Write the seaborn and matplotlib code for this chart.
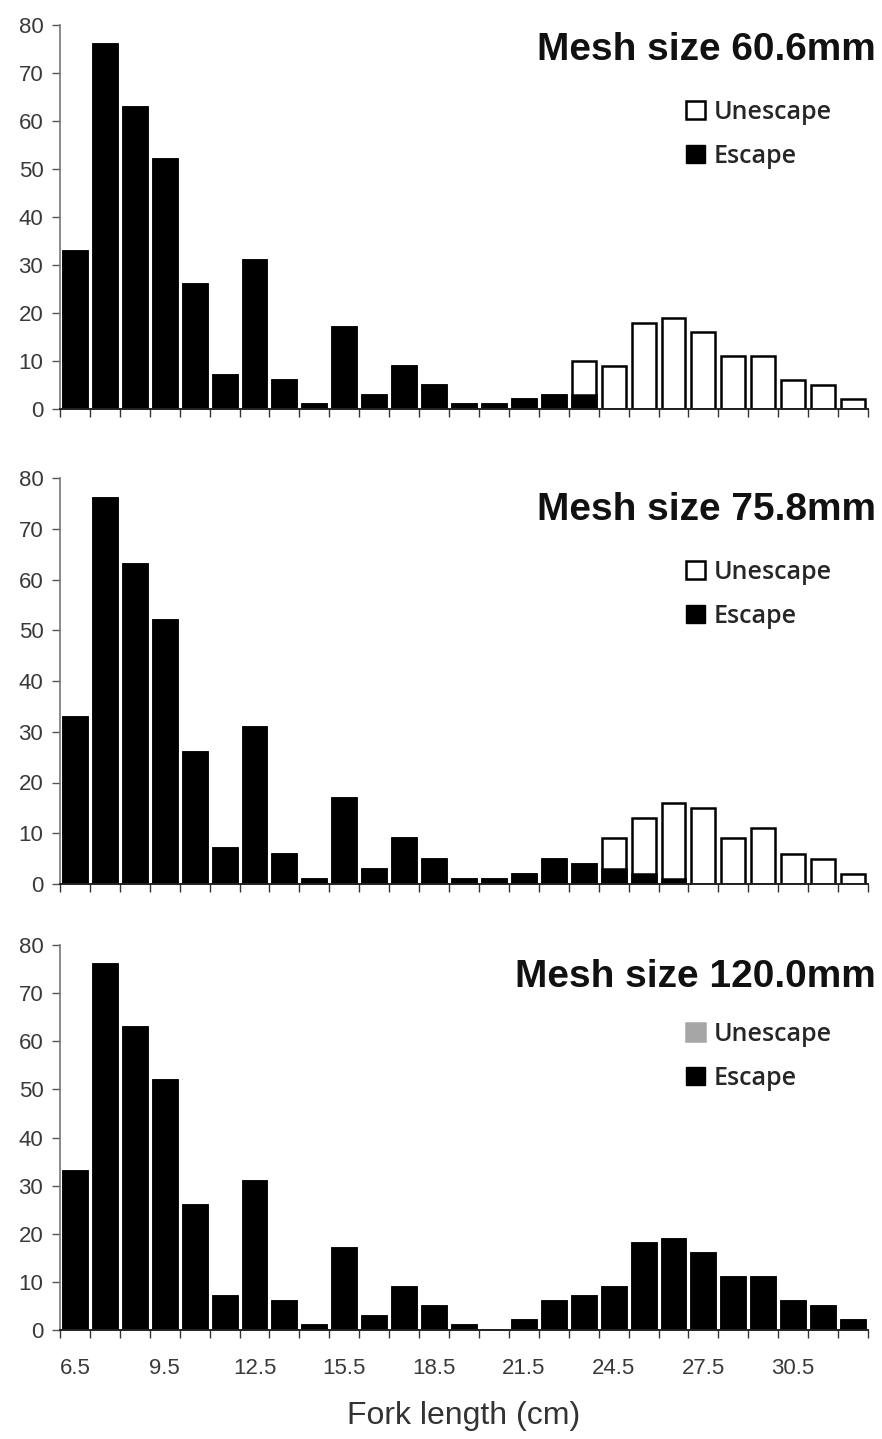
import matplotlib
matplotlib.use("Agg")
import matplotlib.pyplot as plt
from matplotlib.patches import Patch
import seaborn as sns
import numpy as np

fork_length = [6.5, 7.5, 8.5, 9.5, 10.5, 11.5, 12.5, 13.5, 14.5, 15.5, 16.5, 17.5, 18.5,
               19.5, 20.5, 21.5, 22.5, 23.5, 24.5, 25.5, 26.5, 27.5, 28.5, 29.5, 30.5, 31.5, 32.5]
tick_labels = ["6.5", "9.5", "12.5", "15.5", "18.5", "21.5", "24.5", "27.5", "30.5"]

escape_606 = [33, 76, 63, 52, 26, 7, 31, 6, 1, 17, 3, 9, 5, 1, 1, 2, 3, 3, 0, 0, 0, 0, 0, 0, 0, 0, 0]
unescape_606 = [0, 0, 0, 0, 0, 0, 0, 0, 0, 0, 0, 0, 0, 0, 0, 0, 0, 7, 9, 18, 19, 16, 11, 11, 6, 5, 2]

escape_758 = [33, 76, 63, 52, 26, 7, 31, 6, 1, 17, 3, 9, 5, 1, 1, 2, 5, 4, 3, 2, 1, 0, 0, 0, 0, 0, 0]
unescape_758 = [0, 0, 0, 0, 0, 0, 0, 0, 0, 0, 0, 0, 0, 0, 0, 0, 0, 0, 6, 11, 15, 15, 9, 11, 6, 5, 2]

escape_1200 = [33, 76, 63, 52, 26, 7, 31, 6, 1, 17, 3, 9, 5, 1, 0, 2, 6, 7, 9, 18, 19, 16, 11, 11, 6, 5, 2]
unescape_1200 = [0] * 27

titles = ["Mesh size 60.6mm", "Mesh size 75.8mm", "Mesh size 120.0mm"]
unescape_colors = ["white", "white", "#a6a6a6"]

sns.set_theme(style="white")
plt.rcParams["font.family"] = ["Liberation Sans", "DejaVu Sans"]

fig = plt.figure(figsize=(8.82, 14.39), dpi=100)
W, H = 882, 1439
left_px, right_px = 60, 868
panels = [(25, 409), (478, 884), (945, 1330)]  # (top px of 80, px of 0)
title_px = [50, 510, 977]
legend_top_px = [100, 560, 1022]

cats = [str(v) for v in fork_length]
datasets = [(escape_606, unescape_606), (escape_758, unescape_758), (escape_1200, unescape_1200)]

for i, ((top, bot), (esc, unesc)) in enumerate(zip(panels, datasets)):
    ax = fig.add_axes([left_px / W, 1 - bot / H, (right_px - left_px) / W, (bot - top) / H])
    total = [e + u for e, u in zip(esc, unesc)]
    sns.barplot(x=cats, y=total, order=cats, color=unescape_colors[i], saturation=1,
                edgecolor="black", linewidth=1.8, width=0.8, ax=ax)
    sns.barplot(x=cats, y=esc, order=cats, color="black", saturation=1,
                edgecolor="black", linewidth=1.8, width=0.8, ax=ax)
    ax.set_xlim(-0.5, len(cats) - 0.5)
    ax.set_ylim(0, 80)
    ax.set_yticks(np.arange(0, 81, 10))
    ax.tick_params(axis="y", left=True, length=6, width=1, color="#555555",
                   labelsize=16, labelcolor="#3a3a3a", pad=6)
    ax.set_xticks(np.arange(-0.5, len(cats), 1.0), minor=True)
    major_pos = [cats.index(t) for t in tick_labels]
    ax.set_xticks(major_pos)
    if i == 2:
        ax.set_xticklabels(tick_labels)
    else:
        ax.set_xticklabels([])
    ax.tick_params(axis="x", which="major", bottom=True, length=0, labelsize=16,
                   labelcolor="#3a3a3a", pad=20)
    ax.tick_params(axis="x", which="minor", bottom=True, length=6, width=1, color="#333333")
    for s in ["top", "right"]:
        ax.spines[s].set_visible(False)
    ax.spines["left"].set_color("#777777")
    ax.spines["left"].set_linewidth(1.2)
    ax.spines["bottom"].set_color("#222222")
    ax.spines["bottom"].set_linewidth(1.4)
    ax.set_xlabel("")
    ax.set_ylabel("")
    ax.text(1.01, (bot - title_px[i]) / (bot - top), titles[i], transform=ax.transAxes,
            ha="right", va="center", fontsize=28, fontweight="bold", color="#111111")
    handles = [Patch(facecolor=unescape_colors[i], edgecolor="black" if i < 2 else unescape_colors[i], linewidth=1.8),
               Patch(facecolor="black", edgecolor="black")]
    ax.legend(handles, ["Unescape", "Escape"], loc="upper left",
              bbox_to_anchor=((686 - left_px) / (right_px - left_px), (bot - legend_top_px[i]) / (bot - top)),
              frameon=False, handlelength=0.75, handleheight=0.75, handletextpad=0.35,
              labelspacing=0.75, borderaxespad=0, borderpad=0,
              prop={"family": ["Open Sans", "DejaVu Sans"], "weight": "semibold", "size": 18})
    if i == 2:
        ax.set_xlabel("Fork length (cm)", fontsize=23, color="#333333", labelpad=16)

fig.savefig("out.png", dpi=100)
